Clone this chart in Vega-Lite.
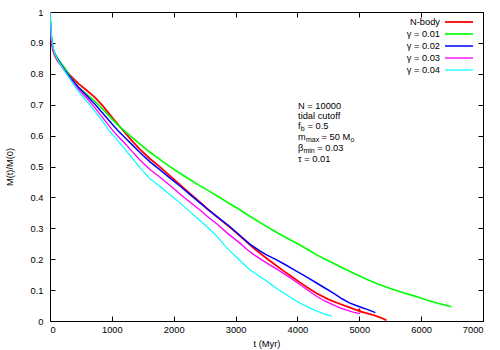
{
  "$schema": "https://vega.github.io/schema/vega-lite/v6.json",
  "width": 433,
  "height": 309,
  "autosize": {"type": "none"},
  "padding": {"left": 50, "top": 12, "right": 17, "bottom": 29},
  "background": "white",
  "config": {
    "font": "Liberation Sans",
    "view": {"stroke": "black", "strokeWidth": 1},
    "axis": {
      "grid": false,
      "domain": false,
      "tickColor": "black",
      "tickSize": -5,
      "tickWidth": 1,
      "labelFont": "Liberation Sans",
      "labelFontSize": 9.3,
      "labelColor": "black",
      "titleFont": "Liberation Sans",
      "titleFontSize": 9.3,
      "titleFontWeight": "normal",
      "titleColor": "black"
    },
    "legend": {
      "orient": "none",
      "legendX": 403,
      "legendY": 4,
      "padding": 0,
      "rowPadding": 0,
      "symbolType": "M-2.8,0H2.8",
      "symbolSize": 100,
      "symbolStrokeWidth": 1.5,
      "labelAlign": "right",
      "labelOffset": -25,
      "labelFont": "Liberation Sans",
      "labelFontSize": 9.3,
      "labelColor": "black"
    }
  },
  "datasets": {
    "curves": [
      {"series": "N-body", "t": 0, "m": 1.0}, {"series": "N-body", "t": 5, "m": 0.96}, {"series": "N-body", "t": 15, "m": 0.92}, {"series": "N-body", "t": 30, "m": 0.895}, {"series": "N-body", "t": 50, "m": 0.875}, {"series": "N-body", "t": 80, "m": 0.858}, {"series": "N-body", "t": 130, "m": 0.84}, {"series": "N-body", "t": 190, "m": 0.826}, {"series": "N-body", "t": 270, "m": 0.806}, {"series": "N-body", "t": 350, "m": 0.79}, {"series": "N-body", "t": 460, "m": 0.768}, {"series": "N-body", "t": 600, "m": 0.745}, {"series": "N-body", "t": 730, "m": 0.723}, {"series": "N-body", "t": 850, "m": 0.697}, {"series": "N-body", "t": 1000, "m": 0.66}, {"series": "N-body", "t": 1100, "m": 0.636}, {"series": "N-body", "t": 1210, "m": 0.61}, {"series": "N-body", "t": 1330, "m": 0.582}, {"series": "N-body", "t": 1450, "m": 0.556}, {"series": "N-body", "t": 1616, "m": 0.525}, {"series": "N-body", "t": 1780, "m": 0.498}, {"series": "N-body", "t": 1950, "m": 0.468}, {"series": "N-body", "t": 2100, "m": 0.441}, {"series": "N-body", "t": 2260, "m": 0.413}, {"series": "N-body", "t": 2420, "m": 0.385}, {"series": "N-body", "t": 2560, "m": 0.36}, {"series": "N-body", "t": 2700, "m": 0.337}, {"series": "N-body", "t": 2910, "m": 0.303}, {"series": "N-body", "t": 3100, "m": 0.27}, {"series": "N-body", "t": 3310, "m": 0.233}, {"series": "N-body", "t": 3500, "m": 0.203}, {"series": "N-body", "t": 3640, "m": 0.182}, {"series": "N-body", "t": 3770, "m": 0.163}, {"series": "N-body", "t": 3900, "m": 0.145}, {"series": "N-body", "t": 4040, "m": 0.125}, {"series": "N-body", "t": 4180, "m": 0.106}, {"series": "N-body", "t": 4310, "m": 0.09}, {"series": "N-body", "t": 4500, "m": 0.07}, {"series": "N-body", "t": 4690, "m": 0.055}, {"series": "N-body", "t": 4850, "m": 0.043}, {"series": "N-body", "t": 4990, "m": 0.033}, {"series": "N-body", "t": 5000, "m": 0.04}, {"series": "N-body", "t": 5010, "m": 0.031}, {"series": "N-body", "t": 5100, "m": 0.026}, {"series": "N-body", "t": 5200, "m": 0.021}, {"series": "N-body", "t": 5300, "m": 0.014}, {"series": "N-body", "t": 5380, "m": 0.008}, {"series": "N-body", "t": 5440, "m": 0.002},
      {"series": "γ = 0.01", "t": 0, "m": 1.0}, {"series": "γ = 0.01", "t": 5, "m": 0.97}, {"series": "γ = 0.01", "t": 15, "m": 0.935}, {"series": "γ = 0.01", "t": 30, "m": 0.905}, {"series": "γ = 0.01", "t": 50, "m": 0.882}, {"series": "γ = 0.01", "t": 80, "m": 0.865}, {"series": "γ = 0.01", "t": 130, "m": 0.848}, {"series": "γ = 0.01", "t": 240, "m": 0.818}, {"series": "γ = 0.01", "t": 350, "m": 0.785}, {"series": "γ = 0.01", "t": 460, "m": 0.757}, {"series": "γ = 0.01", "t": 600, "m": 0.733}, {"series": "γ = 0.01", "t": 730, "m": 0.71}, {"series": "γ = 0.01", "t": 850, "m": 0.686}, {"series": "γ = 0.01", "t": 1000, "m": 0.654}, {"series": "γ = 0.01", "t": 1100, "m": 0.634}, {"series": "γ = 0.01", "t": 1240, "m": 0.609}, {"series": "γ = 0.01", "t": 1350, "m": 0.59}, {"series": "γ = 0.01", "t": 1450, "m": 0.573}, {"series": "γ = 0.01", "t": 1616, "m": 0.546}, {"series": "γ = 0.01", "t": 1780, "m": 0.522}, {"series": "γ = 0.01", "t": 1950, "m": 0.498}, {"series": "γ = 0.01", "t": 2100, "m": 0.478}, {"series": "γ = 0.01", "t": 2260, "m": 0.458}, {"series": "γ = 0.01", "t": 2420, "m": 0.438}, {"series": "γ = 0.01", "t": 2600, "m": 0.417}, {"series": "γ = 0.01", "t": 2750, "m": 0.399}, {"series": "γ = 0.01", "t": 2900, "m": 0.38}, {"series": "γ = 0.01", "t": 3070, "m": 0.36}, {"series": "γ = 0.01", "t": 3230, "m": 0.339}, {"series": "γ = 0.01", "t": 3450, "m": 0.312}, {"series": "γ = 0.01", "t": 3660, "m": 0.287}, {"series": "γ = 0.01", "t": 3850, "m": 0.266}, {"series": "γ = 0.01", "t": 4040, "m": 0.246}, {"series": "γ = 0.01", "t": 4180, "m": 0.23}, {"series": "γ = 0.01", "t": 4310, "m": 0.214}, {"series": "γ = 0.01", "t": 4500, "m": 0.195}, {"series": "γ = 0.01", "t": 4700, "m": 0.175}, {"series": "γ = 0.01", "t": 4900, "m": 0.155}, {"series": "γ = 0.01", "t": 5116, "m": 0.135}, {"series": "γ = 0.01", "t": 5300, "m": 0.12}, {"series": "γ = 0.01", "t": 5500, "m": 0.105}, {"series": "γ = 0.01", "t": 5700, "m": 0.092}, {"series": "γ = 0.01", "t": 5924, "m": 0.079}, {"series": "γ = 0.01", "t": 6100, "m": 0.067}, {"series": "γ = 0.01", "t": 6300, "m": 0.056}, {"series": "γ = 0.01", "t": 6490, "m": 0.046},
      {"series": "γ = 0.02", "t": 0, "m": 1.0}, {"series": "γ = 0.02", "t": 5, "m": 0.97}, {"series": "γ = 0.02", "t": 15, "m": 0.935}, {"series": "γ = 0.02", "t": 30, "m": 0.905}, {"series": "γ = 0.02", "t": 50, "m": 0.88}, {"series": "γ = 0.02", "t": 80, "m": 0.862}, {"series": "γ = 0.02", "t": 130, "m": 0.845}, {"series": "γ = 0.02", "t": 240, "m": 0.812}, {"series": "γ = 0.02", "t": 350, "m": 0.783}, {"series": "γ = 0.02", "t": 460, "m": 0.756}, {"series": "γ = 0.02", "t": 600, "m": 0.728}, {"series": "γ = 0.02", "t": 730, "m": 0.701}, {"series": "γ = 0.02", "t": 850, "m": 0.673}, {"series": "γ = 0.02", "t": 1000, "m": 0.638}, {"series": "γ = 0.02", "t": 1100, "m": 0.616}, {"series": "γ = 0.02", "t": 1210, "m": 0.594}, {"series": "γ = 0.02", "t": 1330, "m": 0.57}, {"series": "γ = 0.02", "t": 1450, "m": 0.546}, {"series": "γ = 0.02", "t": 1616, "m": 0.515}, {"series": "γ = 0.02", "t": 1780, "m": 0.489}, {"series": "γ = 0.02", "t": 1950, "m": 0.461}, {"series": "γ = 0.02", "t": 2100, "m": 0.437}, {"series": "γ = 0.02", "t": 2260, "m": 0.41}, {"series": "γ = 0.02", "t": 2420, "m": 0.383}, {"series": "γ = 0.02", "t": 2560, "m": 0.36}, {"series": "γ = 0.02", "t": 2700, "m": 0.338}, {"series": "γ = 0.02", "t": 2910, "m": 0.305}, {"series": "γ = 0.02", "t": 3100, "m": 0.272}, {"series": "γ = 0.02", "t": 3230, "m": 0.249}, {"series": "γ = 0.02", "t": 3400, "m": 0.226}, {"series": "γ = 0.02", "t": 3500, "m": 0.214}, {"series": "γ = 0.02", "t": 3640, "m": 0.2}, {"series": "γ = 0.02", "t": 3770, "m": 0.186}, {"series": "γ = 0.02", "t": 3900, "m": 0.171}, {"series": "γ = 0.02", "t": 4040, "m": 0.155}, {"series": "γ = 0.02", "t": 4180, "m": 0.139}, {"series": "γ = 0.02", "t": 4310, "m": 0.123}, {"series": "γ = 0.02", "t": 4450, "m": 0.106}, {"series": "γ = 0.02", "t": 4600, "m": 0.088}, {"series": "γ = 0.02", "t": 4720, "m": 0.072}, {"series": "γ = 0.02", "t": 4850, "m": 0.058}, {"series": "γ = 0.02", "t": 4950, "m": 0.05}, {"series": "γ = 0.02", "t": 5050, "m": 0.043}, {"series": "γ = 0.02", "t": 5150, "m": 0.036}, {"series": "γ = 0.02", "t": 5260, "m": 0.027},
      {"series": "γ = 0.03", "t": 0, "m": 1.0}, {"series": "γ = 0.03", "t": 5, "m": 0.965}, {"series": "γ = 0.03", "t": 15, "m": 0.93}, {"series": "γ = 0.03", "t": 30, "m": 0.9}, {"series": "γ = 0.03", "t": 50, "m": 0.878}, {"series": "γ = 0.03", "t": 80, "m": 0.86}, {"series": "γ = 0.03", "t": 130, "m": 0.842}, {"series": "γ = 0.03", "t": 240, "m": 0.808}, {"series": "γ = 0.03", "t": 350, "m": 0.778}, {"series": "γ = 0.03", "t": 460, "m": 0.75}, {"series": "γ = 0.03", "t": 600, "m": 0.72}, {"series": "γ = 0.03", "t": 730, "m": 0.689}, {"series": "γ = 0.03", "t": 850, "m": 0.658}, {"series": "γ = 0.03", "t": 1000, "m": 0.62}, {"series": "γ = 0.03", "t": 1100, "m": 0.597}, {"series": "γ = 0.03", "t": 1210, "m": 0.575}, {"series": "γ = 0.03", "t": 1330, "m": 0.548}, {"series": "γ = 0.03", "t": 1450, "m": 0.522}, {"series": "γ = 0.03", "t": 1616, "m": 0.49}, {"series": "γ = 0.03", "t": 1780, "m": 0.465}, {"series": "γ = 0.03", "t": 1950, "m": 0.437}, {"series": "γ = 0.03", "t": 2100, "m": 0.411}, {"series": "γ = 0.03", "t": 2260, "m": 0.385}, {"series": "γ = 0.03", "t": 2420, "m": 0.36}, {"series": "γ = 0.03", "t": 2560, "m": 0.336}, {"series": "γ = 0.03", "t": 2700, "m": 0.314}, {"series": "γ = 0.03", "t": 2880, "m": 0.282}, {"series": "γ = 0.03", "t": 3070, "m": 0.252}, {"series": "γ = 0.03", "t": 3180, "m": 0.232}, {"series": "γ = 0.03", "t": 3300, "m": 0.214}, {"series": "γ = 0.03", "t": 3500, "m": 0.188}, {"series": "γ = 0.03", "t": 3640, "m": 0.171}, {"series": "γ = 0.03", "t": 3770, "m": 0.155}, {"series": "γ = 0.03", "t": 3900, "m": 0.138}, {"series": "γ = 0.03", "t": 4040, "m": 0.118}, {"series": "γ = 0.03", "t": 4180, "m": 0.098}, {"series": "γ = 0.03", "t": 4310, "m": 0.08}, {"series": "γ = 0.03", "t": 4450, "m": 0.064}, {"series": "γ = 0.03", "t": 4580, "m": 0.052}, {"series": "γ = 0.03", "t": 4700, "m": 0.042}, {"series": "γ = 0.03", "t": 4800, "m": 0.035}, {"series": "γ = 0.03", "t": 4900, "m": 0.029}, {"series": "γ = 0.03", "t": 5010, "m": 0.024},
      {"series": "γ = 0.04", "t": 0, "m": 1.0}, {"series": "γ = 0.04", "t": 5, "m": 0.98}, {"series": "γ = 0.04", "t": 15, "m": 0.95}, {"series": "γ = 0.04", "t": 27, "m": 0.918}, {"series": "γ = 0.04", "t": 50, "m": 0.885}, {"series": "γ = 0.04", "t": 81, "m": 0.862}, {"series": "γ = 0.04", "t": 130, "m": 0.843}, {"series": "γ = 0.04", "t": 242, "m": 0.808}, {"series": "γ = 0.04", "t": 350, "m": 0.775}, {"series": "γ = 0.04", "t": 458, "m": 0.743}, {"series": "γ = 0.04", "t": 600, "m": 0.71}, {"series": "γ = 0.04", "t": 727, "m": 0.678}, {"series": "γ = 0.04", "t": 850, "m": 0.646}, {"series": "γ = 0.04", "t": 940, "m": 0.62}, {"series": "γ = 0.04", "t": 1050, "m": 0.594}, {"series": "γ = 0.04", "t": 1210, "m": 0.556}, {"series": "γ = 0.04", "t": 1330, "m": 0.527}, {"series": "γ = 0.04", "t": 1450, "m": 0.497}, {"series": "γ = 0.04", "t": 1616, "m": 0.46}, {"series": "γ = 0.04", "t": 1780, "m": 0.435}, {"series": "γ = 0.04", "t": 1950, "m": 0.407}, {"series": "γ = 0.04", "t": 2100, "m": 0.383}, {"series": "γ = 0.04", "t": 2260, "m": 0.354}, {"series": "γ = 0.04", "t": 2420, "m": 0.326}, {"series": "γ = 0.04", "t": 2560, "m": 0.301}, {"series": "γ = 0.04", "t": 2700, "m": 0.274}, {"series": "γ = 0.04", "t": 2860, "m": 0.236}, {"series": "γ = 0.04", "t": 3050, "m": 0.2}, {"series": "γ = 0.04", "t": 3230, "m": 0.166}, {"series": "γ = 0.04", "t": 3400, "m": 0.143}, {"series": "γ = 0.04", "t": 3550, "m": 0.122}, {"series": "γ = 0.04", "t": 3700, "m": 0.1}, {"series": "γ = 0.04", "t": 3800, "m": 0.088}, {"series": "γ = 0.04", "t": 3920, "m": 0.072}, {"series": "γ = 0.04", "t": 4040, "m": 0.058}, {"series": "γ = 0.04", "t": 4180, "m": 0.044}, {"series": "γ = 0.04", "t": 4300, "m": 0.033}, {"series": "γ = 0.04", "t": 4430, "m": 0.023}, {"series": "γ = 0.04", "t": 4550, "m": 0.016}
    ],
    "notes": [
      {"t": 4010, "m": 0.696, "head": "N = 10000"},
      {"t": 4010, "m": 0.664, "head": "tidal cutoff"},
      {"t": 4010, "m": 0.630, "head": "f", "sub": "b", "rest": "= 0.5"},
      {"t": 4010, "m": 0.595, "head": "m", "sub": "max", "rest": "= 50 M", "sub2": "o"},
      {"t": 4010, "m": 0.559, "head": "β", "sub": "min", "rest": "= 0.03"},
      {"t": 4010, "m": 0.524, "head": "τ = 0.01"}
    ]
  },
  "layer": [
    {
      "data": {"name": "curves"},
      "mark": {"type": "line", "clip": true},
      "encoding": {
        "x": {"field": "t", "type": "quantitative", "scale": {"domain": [0, 7000], "nice": false},
          "axis": {"orient": "bottom", "values": [0, 1000, 2000, 3000, 4000, 5000, 6000, 7000], "format": "d", "labelPadding": 9, "title": "t (Myr)", "titlePadding": 5}},
        "y": {"field": "m", "type": "quantitative", "scale": {"domain": [0, 1], "nice": false, "zero": false},
          "axis": {"orient": "left", "values": [0, 0.1, 0.2, 0.3, 0.4, 0.5, 0.6, 0.7, 0.8, 0.9, 1], "format": "~g", "labelPadding": 12, "title": "M(t)/M(0)", "titlePadding": 16}},
        "color": {"field": "series", "type": "nominal",
          "scale": {"domain": ["N-body", "γ = 0.01", "γ = 0.02", "γ = 0.03", "γ = 0.04"], "range": ["#ff0000", "#00ff00", "#0000ff", "#ff00ff", "#00ffff"]},
          "legend": {"title": null}},
        "strokeWidth": {"field": "series", "type": "nominal",
          "scale": {"domain": ["N-body", "γ = 0.01", "γ = 0.02", "γ = 0.03", "γ = 0.04"], "range": [1.8, 1.2, 1.4, 1.2, 1.2]},
          "legend": null}
      }
    },
    {
      "data": {"name": "curves"},
      "mark": {"type": "point", "opacity": 0},
      "encoding": {
        "x": {"field": "t", "type": "quantitative", "axis": {"orient": "top", "labels": false, "title": null, "values": [0, 1000, 2000, 3000, 4000, 5000, 6000, 7000]}},
        "y": {"field": "m", "type": "quantitative", "axis": {"orient": "right", "labels": false, "title": null, "values": [0, 0.1, 0.2, 0.3, 0.4, 0.5, 0.6, 0.7, 0.8, 0.9, 1]}}
      }
    },
    {
      "data": {"name": "notes"},
      "mark": {"type": "text", "align": "left", "baseline": "middle", "fontSize": 9.3, "color": "black"},
      "encoding": {
        "x": {"field": "t", "type": "quantitative", "axis": null},
        "y": {"field": "m", "type": "quantitative", "axis": null},
        "text": {"field": "head"}
      }
    },
    {
      "data": {"name": "notes"},
      "transform": [{"filter": "datum.sub === 'b'"}],
      "layer": [
        {"mark": {"type": "text", "align": "left", "baseline": "middle", "fontSize": 7, "dx": 2.8, "dy": 2.5, "color": "black"},
         "encoding": {"x": {"field": "t", "type": "quantitative", "axis": null}, "y": {"field": "m", "type": "quantitative", "axis": null}, "text": {"field": "sub"}}},
        {"mark": {"type": "text", "align": "left", "baseline": "middle", "fontSize": 9.3, "dx": 9.5, "color": "black"},
         "encoding": {"x": {"field": "t", "type": "quantitative", "axis": null}, "y": {"field": "m", "type": "quantitative", "axis": null}, "text": {"field": "rest"}}}
      ]
    },
    {
      "data": {"name": "notes"},
      "transform": [{"filter": "datum.sub === 'max'"}],
      "layer": [
        {"mark": {"type": "text", "align": "left", "baseline": "middle", "fontSize": 7, "dx": 7.9, "dy": 2.5, "color": "black"},
         "encoding": {"x": {"field": "t", "type": "quantitative", "axis": null}, "y": {"field": "m", "type": "quantitative", "axis": null}, "text": {"field": "sub"}}},
        {"mark": {"type": "text", "align": "left", "baseline": "middle", "fontSize": 9.3, "dx": 23.5, "color": "black"},
         "encoding": {"x": {"field": "t", "type": "quantitative", "axis": null}, "y": {"field": "m", "type": "quantitative", "axis": null}, "text": {"field": "rest"}}},
        {"mark": {"type": "text", "align": "left", "baseline": "middle", "fontSize": 7, "dx": 52.5, "dy": 2.5, "color": "black"},
         "encoding": {"x": {"field": "t", "type": "quantitative", "axis": null}, "y": {"field": "m", "type": "quantitative", "axis": null}, "text": {"field": "sub2"}}}
      ]
    },
    {
      "data": {"name": "notes"},
      "transform": [{"filter": "datum.sub === 'min'"}],
      "layer": [
        {"mark": {"type": "text", "align": "left", "baseline": "middle", "fontSize": 7, "dx": 5.4, "dy": 2.5, "color": "black"},
         "encoding": {"x": {"field": "t", "type": "quantitative", "axis": null}, "y": {"field": "m", "type": "quantitative", "axis": null}, "text": {"field": "sub"}}},
        {"mark": {"type": "text", "align": "left", "baseline": "middle", "fontSize": 9.3, "dx": 19.2, "color": "black"},
         "encoding": {"x": {"field": "t", "type": "quantitative", "axis": null}, "y": {"field": "m", "type": "quantitative", "axis": null}, "text": {"field": "rest"}}}
      ]
    }
  ],
  "resolve": {"axis": {"x": "independent", "y": "independent"}}
}
